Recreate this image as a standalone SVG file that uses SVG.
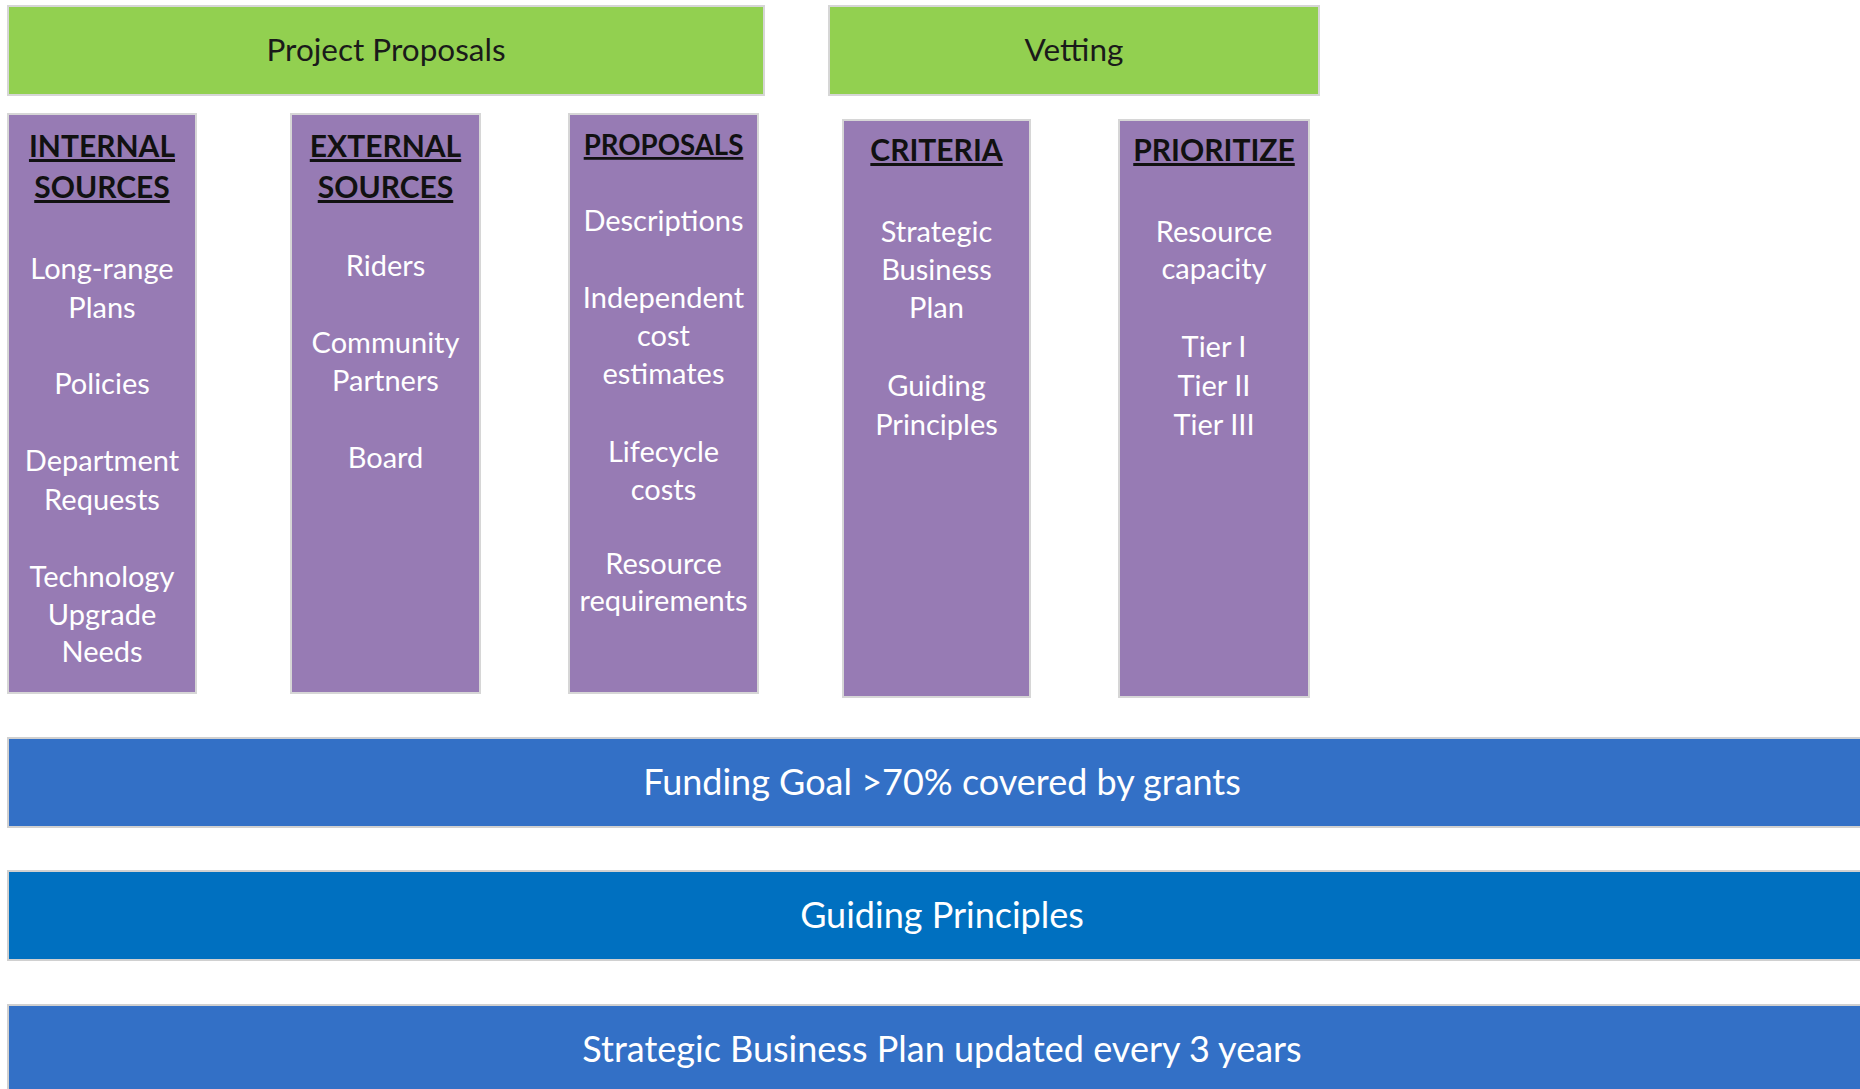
<svg xmlns="http://www.w3.org/2000/svg" width="1860" height="1089" viewBox="0 0 1860 1089">
  <style>
    .bg { fill: #ffffff; }
    .green { fill: #92d050; stroke: #d6d6d6; stroke-width: 2; }
    .purple { fill: #977bb4; stroke: #d6d6d6; stroke-width: 2; }
    .bar1 { fill: #3370c6; stroke: #d0d0d0; stroke-width: 2; }
    .bar2 { fill: #0070c0; stroke: #d0d0d0; stroke-width: 2; }
    text { font-family: Lato, "Open Sans", "Liberation Sans", sans-serif; text-anchor: middle; }
    .title { font-size: 31.5px; fill: #1a1a1a; }
    .head { font-size: 30px; font-weight: bold; fill: #111111; text-decoration: underline; }
    .head-s { font-size: 27.6px; font-weight: bold; fill: #111111; text-decoration: underline; }
    .item { font-size: 29px; fill: #ffffff; }
    .band { font-size: 36px; fill: #ffffff; }
  </style>

  <rect class="bg" x="0" y="0" width="1860" height="1089"/>

  <!-- Top headers -->
  <g id="project-proposals">
    <rect class="green" x="8" y="6" width="756" height="89"/>
    <text class="title" x="386" y="61">Project Proposals</text>
  </g>
  <g id="vetting">
    <rect class="green" x="829" y="6" width="490" height="89"/>
    <text class="title" x="1074" y="61">Vetting</text>
  </g>

  <!-- Proposal source columns -->
  <g id="internal-sources">
    <rect class="purple" x="8" y="114" width="188" height="579"/>
    <text class="head" x="102" y="157">INTERNAL</text>
    <text class="head" x="102" y="198">SOURCES</text>
    <text class="item" x="102" y="279">Long-range</text>
    <text class="item" x="102" y="318">Plans</text>
    <text class="item" x="102" y="394">Policies</text>
    <text class="item" x="102" y="471">Department</text>
    <text class="item" x="102" y="510">Requests</text>
    <text class="item" x="102" y="587">Technology</text>
    <text class="item" x="102" y="625">Upgrade</text>
    <text class="item" x="102" y="662">Needs</text>
  </g>

  <g id="external-sources">
    <rect class="purple" x="291" y="114" width="189" height="579"/>
    <text class="head" x="385.5" y="157">EXTERNAL</text>
    <text class="head" x="385.5" y="198">SOURCES</text>
    <text class="item" x="385.5" y="276">Riders</text>
    <text class="item" x="385.5" y="353">Community</text>
    <text class="item" x="385.5" y="391">Partners</text>
    <text class="item" x="385.5" y="468">Board</text>
  </g>

  <g id="proposals">
    <rect class="purple" x="569" y="114" width="189" height="579"/>
    <text class="head-s" x="663.5" y="155">PROPOSALS</text>
    <text class="item" x="663.5" y="231">Descriptions</text>
    <text class="item" x="663.5" y="308">Independent</text>
    <text class="item" x="663.5" y="346">cost</text>
    <text class="item" x="663.5" y="384">estimates</text>
    <text class="item" x="663.5" y="462">Lifecycle</text>
    <text class="item" x="663.5" y="500">costs</text>
    <text class="item" x="663.5" y="574">Resource</text>
    <text class="item" x="663.5" y="611">requirements</text>
  </g>

  <!-- Vetting columns -->
  <g id="criteria">
    <rect class="purple" x="843" y="120" width="187" height="577"/>
    <text class="head" x="936.5" y="161">CRITERIA</text>
    <text class="item" x="936.5" y="242">Strategic</text>
    <text class="item" x="936.5" y="280">Business</text>
    <text class="item" x="936.5" y="318">Plan</text>
    <text class="item" x="936.5" y="396">Guiding</text>
    <text class="item" x="936.5" y="435">Principles</text>
  </g>

  <g id="prioritize">
    <rect class="purple" x="1119" y="120" width="190" height="577"/>
    <text class="head" x="1214" y="161">PRIORITIZE</text>
    <text class="item" x="1214" y="242">Resource</text>
    <text class="item" x="1214" y="279">capacity</text>
    <text class="item" x="1214" y="357">Tier I</text>
    <text class="item" x="1214" y="396">Tier II</text>
    <text class="item" x="1214" y="435">Tier III</text>
  </g>

  <!-- Foundation bands -->
  <g id="funding-goal">
    <rect class="bar1" x="8" y="738" width="1870" height="89"/>
    <text class="band" x="942" y="795">Funding Goal &gt;70% covered by grants</text>
  </g>
  <g id="guiding-principles">
    <rect class="bar2" x="8" y="871" width="1870" height="89"/>
    <text class="band" x="942" y="928">Guiding Principles</text>
  </g>
  <g id="strategic-business-plan">
    <rect class="bar1" x="8" y="1005" width="1870" height="100"/>
    <text class="band" x="942" y="1062">Strategic Business Plan updated every 3 years</text>
  </g>
</svg>
